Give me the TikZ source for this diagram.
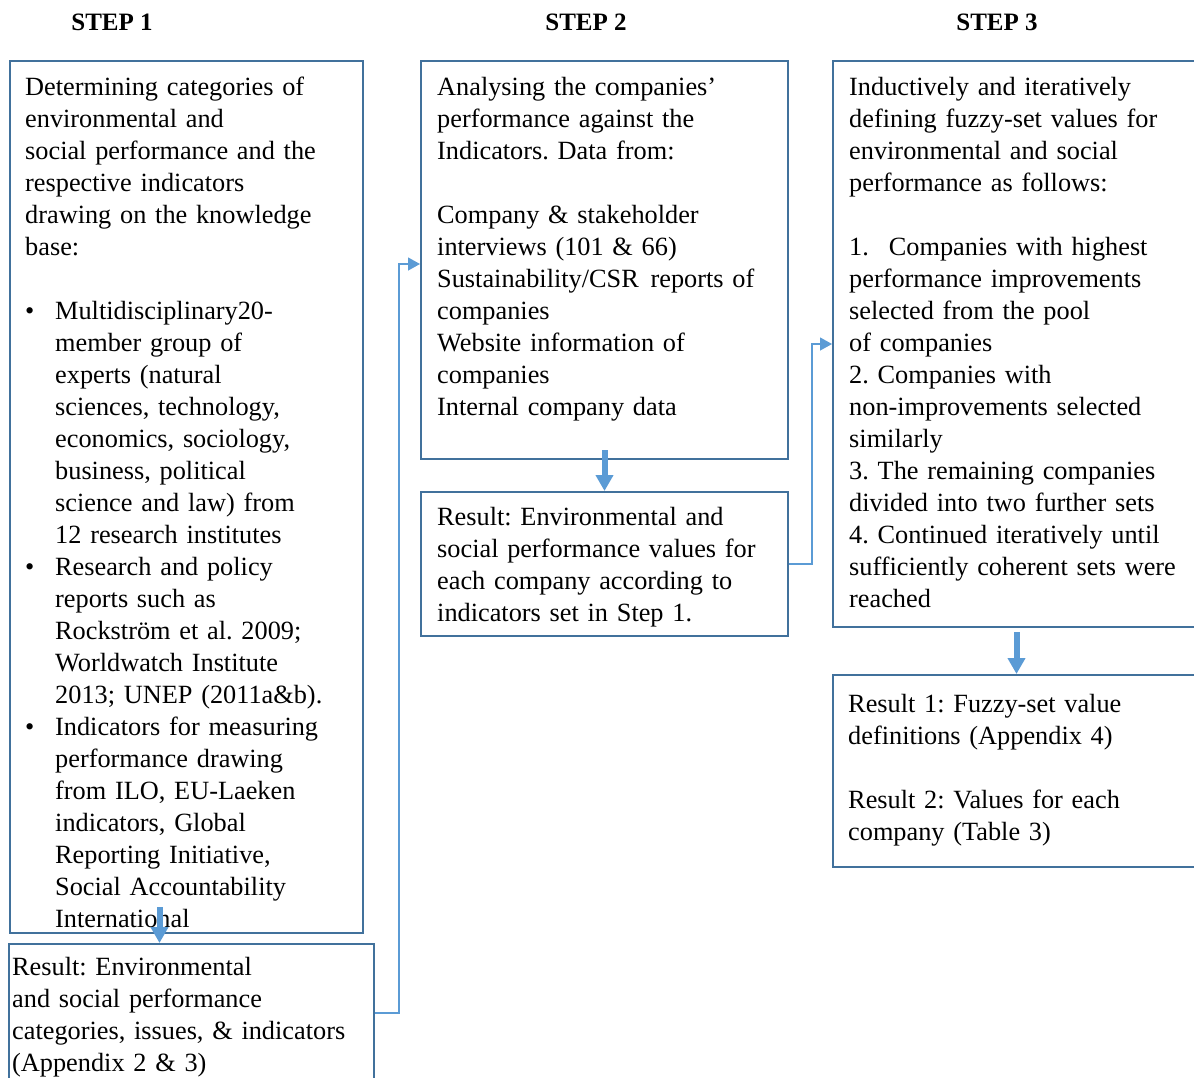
\documentclass[tikz,border=0pt]{standalone}
\usepackage{fontspec}
\setmainfont{Liberation Serif}
\usetikzlibrary{calc, positioning, arrows.meta}
\definecolor{boxblue}{HTML}{41719C}
\definecolor{arrblue}{HTML}{5B9BD5}
\newcommand{\itembul}{\makebox[30pt][l]{\textbullet}}
\newcommand{\bulind}{\hspace*{30pt}}

\begin{document}
\begin{tikzpicture}[x=1pt, y=-1pt,
  frame/.style={draw=boxblue, line width=2pt, anchor=north west, inner sep=0pt},
  txt/.style={anchor=base west, inner sep=0pt, text width=345pt, align=left,
    font=\fontsize{26.3}{32}\selectfont\frenchspacing},
  head/.style={anchor=base, font=\fontsize{25}{30}\selectfont\bfseries},
  bigarrow/.style={arrblue, line width=6pt, -{Triangle[length=16pt, width=17pt]}},
  link/.style={arrblue, line width=1.3pt, -{Triangle[length=12pt, width=13pt]}}]
  \useasboundingbox (0,0) rectangle (1194,1077);
  \clip (0,0) rectangle (1194,1077);

  % Headers
  \node[head] (step1) at (112,30) {STEP 1};
  \node[head] (step2) at (586,30) {STEP 2};
  \node[head] (step3) at (997,30) {STEP 3};

  % Step 1
  \node[frame, minimum width=353pt, minimum height=872pt] (know) at (9,60) {};
  \node[txt] (knowtxt) at ([xshift=16pt,yshift=-35pt]know.north west)
    {Determining categories of\\
     environmental and\\
     social performance and the\\
     respective indicators\\
     drawing on the knowledge\\
     base:\\[32pt]
     \itembul Multidisciplinary20-\\
     \bulind member group of\\
     \bulind experts (natural\\
     \bulind sciences, technology,\\
     \bulind economics, sociology,\\
     \bulind business, political\\
     \bulind science and law) from\\
     \bulind 12 research institutes\\
     \itembul Research and policy\\
     \bulind reports such as\\
     \bulind Rockström et al. 2009;\\
     \bulind Worldwatch Institute\\
     \bulind 2013; UNEP (2011a\&b).\\
     \itembul Indicators for measuring\\
     \bulind performance drawing\\
     \bulind from ILO, EU-Laeken\\
     \bulind indicators, Global\\
     \bulind Reporting Initiative,\\
     \bulind Social Accountability\\
     \bulind International};
  \node[frame, minimum width=365pt, minimum height=138pt] (res1) at (8,943) {};
  \node[txt] (res1txt) at ([xshift=4pt,yshift=-32pt]res1.north west)
    {Result: Environmental\\
     and social performance\\
     categories, issues, \& indicators\\
     (Appendix 2 \& 3)};

  % Step 2
  \node[frame, minimum width=367pt, minimum height=398pt] (anal) at (420,60) {};
  \node[txt] (analtxt) at ([xshift=17pt,yshift=-35pt]anal.north west)
    {Analysing the companies’\\
     performance against the\\
     Indicators. Data from:\\[32pt]
     Company \& stakeholder\\
     interviews (101 \& 66)\\
     Sustainability/CSR\hspace{3pt} reports of\\
     companies\\
     Website information of\\
     companies\\
     Internal company data};
  \node[frame, minimum width=367pt, minimum height=144pt] (res2) at (420,491) {};
  \node[txt] (res2txt) at ([xshift=17pt,yshift=-34pt]res2.north west)
    {Result: Environmental and\\
     social performance values for\\
     each company according to\\
     indicators set in Step 1.};

  % Step 3
  \node[frame, minimum width=367pt, minimum height=566pt] (fuzzy) at (832,60) {};
  \node[txt] (fuzzytxt) at ([xshift=17pt,yshift=-35pt]fuzzy.north west)
    {Inductively and iteratively\\
     defining fuzzy-set values for\\
     environmental and social\\
     performance as follows:\\[32pt]
     1.\hspace*{20pt}Companies with highest\\
     performance improvements\\
     selected from the pool\\
     of companies\\
     2. Companies with\\
     non-improvements selected\\
     similarly\\
     3. The remaining companies\\
     divided into two further sets\\
     4. Continued iteratively until\\
     sufficiently coherent sets were\\
     reached};
  \node[frame, minimum width=367pt, minimum height=192pt] (res3) at (832,674) {};
  \node[txt] (res3txt) at ([xshift=16pt,yshift=-38pt]res3.north west)
    {Result 1: Fuzzy-set value\\
     definitions (Appendix 4)\\[32pt]
     Result 2: Values for each\\
     company (Table 3)};

  % Arrows
  \draw[bigarrow] ([xshift=-27pt,yshift=27pt]know.south) -- ([xshift=-27pt]know.south |- res1.north);
  \draw[bigarrow] ([yshift=10pt]anal.south) -- (res2.north);
  \draw[bigarrow] ([yshift=-4pt]fuzzy.south) -- (res3.north);
  \draw[link] (res1.east) -- ++(24,0) |- ([yshift=-4pt]anal.west);
  \draw[link] (res2.east) -- ++(23,0) |- (fuzzy.west);
\end{tikzpicture}
\end{document}
